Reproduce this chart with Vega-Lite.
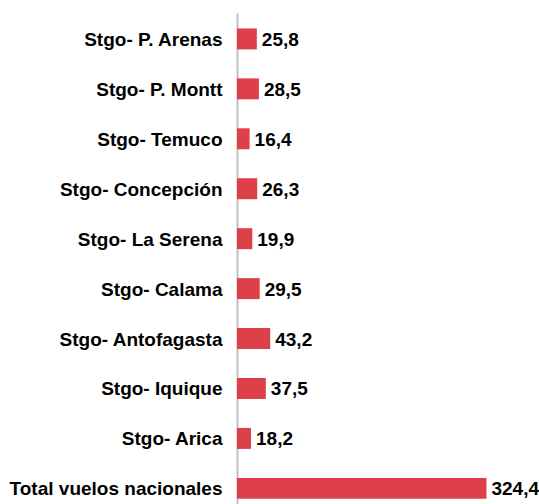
{
  "$schema": "https://vega.github.io/schema/vega-lite/v6.json",
  "autosize": "none",
  "width": 302,
  "height": 491,
  "padding": {"left": 237, "top": 13, "right": 0, "bottom": 0},
  "background": "white",
  "config": {
    "view": {"stroke": null},
    "locale": {"number": {"decimal": ",", "thousands": ".", "grouping": [3], "currency": ["", ""]}},
    "font": "Liberation Sans"
  },
  "data": {
    "values": [
      {"ruta": "Stgo- P. Arenas", "valor": 25.8},
      {"ruta": "Stgo- P. Montt", "valor": 28.5},
      {"ruta": "Stgo- Temuco", "valor": 16.4},
      {"ruta": "Stgo- Concepción", "valor": 26.3},
      {"ruta": "Stgo- La Serena", "valor": 19.9},
      {"ruta": "Stgo- Calama", "valor": 29.5},
      {"ruta": "Stgo- Antofagasta", "valor": 43.2},
      {"ruta": "Stgo- Iquique", "valor": 37.5},
      {"ruta": "Stgo- Arica", "valor": 18.2},
      {"ruta": "Total vuelos nacionales", "valor": 324.4}
    ]
  },
  "encoding": {
    "y": {
      "field": "ruta",
      "type": "nominal",
      "sort": null,
      "title": null,
      "scale": {"paddingInner": 0.58, "paddingOuter": 0.206, "align": 0.75},
      "axis": {
        "ticks": false,
        "grid": false,
        "domainColor": "#BFBFBF",
        "domainWidth": 2,
        "labelFont": "Liberation Sans",
        "labelFontSize": 19,
        "labelFontWeight": "bold",
        "labelColor": "black",
        "labelPadding": 15,
        "labelLimit": 300,
        "labelBaseline": "middle",
        "labelOffset": 1
      }
    },
    "x": {
      "field": "valor",
      "type": "quantitative",
      "scale": {"domain": [0, 392.7], "nice": false},
      "axis": null
    }
  },
  "layer": [
    {"mark": {"type": "bar", "color": "#DD4048"}},
    {
      "mark": {"type": "text", "align": "left", "baseline": "middle", "dx": 5, "dy": 1, "font": "Liberation Sans", "fontSize": 19, "fontWeight": "bold", "color": "black"},
      "encoding": {"text": {"field": "valor", "type": "quantitative", "format": ".1f"}}
    }
  ]
}
